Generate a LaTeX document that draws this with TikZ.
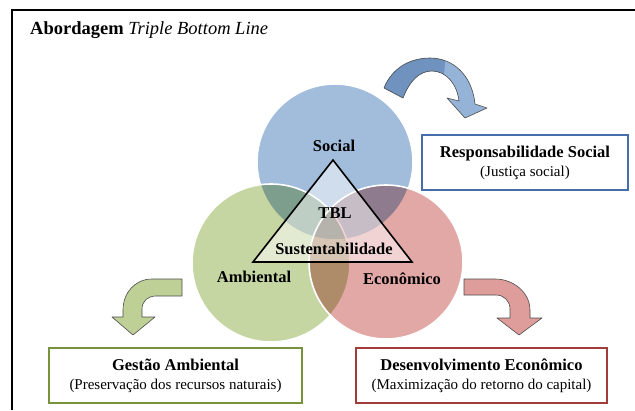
\documentclass[tikz,border=0pt]{standalone}
\usepackage{fontspec}
\setmainfont{Liberation Serif}
\usetikzlibrary{positioning}

\definecolor{socialfill}{RGB}{149,179,215}
\definecolor{socialdark}{RGB}{112,146,190}
\definecolor{ambfill}{RGB}{190,208,150}
\definecolor{ecofill}{RGB}{222,156,154}
\definecolor{socialline}{RGB}{69,110,170}
\definecolor{ambline}{RGB}{119,147,60}
\definecolor{ecoline}{RGB}{160,60,58}

\begin{document}
\begin{tikzpicture}[x=1pt,y=-1pt,
  circ/.style={blend mode=multiply, fill opacity=.88},
  rim/.style={white, line width=1.6pt},
  lbl/.style={font=\fontsize{16.5}{19}\selectfont\bfseries, inner sep=0pt},
  box/.style={draw, line width=1.6pt, fill=white, align=center, inner sep=2pt,
    minimum height=55pt, font=\fontsize{16.5}{19}\selectfont},
  blockarrow/.style={draw=black!70, line width=.6pt, line join=round}]
 \useasboundingbox (0,0) rectangle (635,410);
 % frame and title
 \draw [line width=2.5pt] (12,410)--(12,10)--(635,10);
 \node [anchor=base west, inner sep=0pt, font=\fontsize{18.5}{20}\selectfont] (title) at (30,34)
   {\textbf{Abordagem} \textit{Triple Bottom Line}};
 % the three circles
 \fill [circ, socialfill] (335,162) circle (78);
 \draw [rim] (335,162) circle (78);
 \fill [circ, ambfill] (271,263) circle (79);
 \draw [rim] (271,263) circle (79);
 \fill [circ, ecofill] (386,262) circle (77);
 \draw [rim] (386,262) circle (77);
 % triangle
 \draw [line width=1.6pt, fill=white, fill opacity=.5, line join=miter]
   (333,160)--(253,262)--(412,262)--cycle;
 \node [lbl] (social) at (334,146) {Social};
 \node [lbl] (tbl) at (335,213) {TBL};
 \node [lbl] (sust) at (334,249) {Sustentabilidade};
 \node [lbl] (amb) at (254,277) {Ambiental};
 \node [lbl] (eco) at (402,279) {Econômico};
 % curved arrows
 \def\socialarrow{(384,88) .. controls (392,68) and (410,58) .. (430,58)
   .. controls (452,58) and (472,74) .. (475,104) -- (487,108) -- (465,118)
   -- (447,98) -- (459,101) .. controls (457,84) and (446,71) .. (432,71)
   .. controls (420,71) and (410,80) .. (403,98) -- cycle}
 \fill [socialfill] \socialarrow;
 \begin{scope}
  \clip (370,50) -- (446,50) -- (442,100) -- (370,100) -- cycle;
  \fill [socialdark] \socialarrow;
 \end{scope}
 \draw [blockarrow] \socialarrow;
 \draw [blockarrow, fill=ambfill] (182,279) -- (152,279) .. controls (135,279) and (123,293) .. (123,310)
   -- (123,317) -- (112,317) -- (133,335) -- (155,317) -- (142,317) -- (142,309)
   .. controls (142,301) and (148,296) .. (156,296) -- (182,296) -- cycle;
 \draw [blockarrow, fill=ecofill] (464,279) -- (495,279) .. controls (514,279) and (530,293) .. (530,310)
   -- (530,318) -- (542,318) -- (519,335) -- (497,318) -- (510,318) -- (510,309)
   .. controls (510,301) and (504,295) .. (496,295) -- (464,295) -- cycle;
 % boxes
 \node [box, draw=socialline, minimum width=206pt] (resp) at (525,162.5)
   {\textbf{Responsabilidade Social}\\ {\fontsize{15}{18}\selectfont(Justiça social)}};
 \node [box, draw=ambline, minimum width=253pt] (gestao) at (175.5,375.5)
   {\textbf{Gestão Ambiental}\\ {\fontsize{15}{18}\selectfont(Preservação dos recursos naturais)}};
 \node [box, draw=ecoline, minimum width=251pt] (desenv) at (481.5,375.5)
   {\textbf{Desenvolvimento Econômico}\\ {\fontsize{15}{18}\selectfont(Maximização do retorno do capital)}};
\end{tikzpicture}
\end{document}
